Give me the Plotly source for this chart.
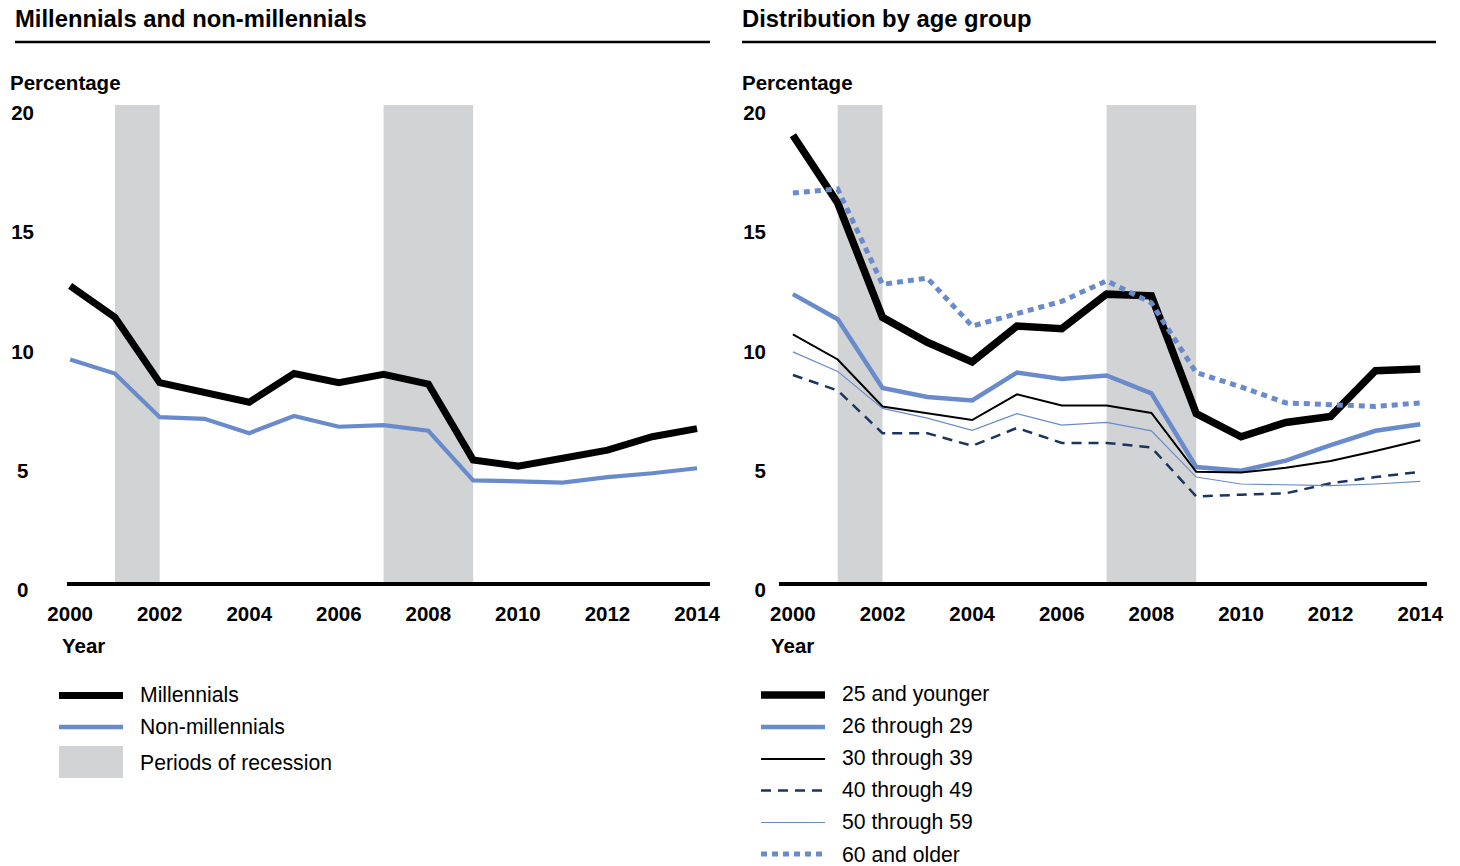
import plotly.graph_objects as go

# ---------------- data ----------------
years = list(range(2000, 2015))

millennials = [12.42, 11.10, 8.36, 7.96, 7.54, 8.74, 8.36, 8.71, 8.30, 5.12, 4.86, 5.19, 5.53, 6.09, 6.43]
non_millennials = [9.33, 8.74, 6.91, 6.84, 6.24, 6.96, 6.51, 6.58, 6.34, 4.26, 4.22, 4.17, 4.40, 4.56, 4.77]

age_25_younger = [18.73, 15.89, 11.10, 10.05, 9.23, 10.73, 10.62, 12.07, 12.00, 7.06, 6.09, 6.69, 6.94, 8.86, 8.93]
age_26_29 = [12.07, 11.02, 8.14, 7.76, 7.61, 8.78, 8.51, 8.66, 7.91, 4.82, 4.67, 5.09, 5.74, 6.34, 6.61]
age_30_39 = [10.38, 9.33, 7.36, 7.09, 6.79, 7.87, 7.40, 7.40, 7.09, 4.62, 4.59, 4.79, 5.07, 5.49, 5.94]
age_40_49 = [8.68, 8.03, 6.24, 6.24, 5.71, 6.46, 5.83, 5.83, 5.64, 3.59, 3.66, 3.72, 4.14, 4.40, 4.62]
age_50_59 = [9.65, 8.83, 7.28, 6.87, 6.36, 7.06, 6.58, 6.69, 6.34, 4.40, 4.11, 4.07, 4.04, 4.11, 4.22]
age_60_older = [16.31, 16.48, 12.48, 12.74, 10.73, 11.25, 11.77, 12.63, 11.70, 8.78, 8.18, 7.51, 7.43, 7.36, 7.51]

recessions = [(2001, 2002), (2007, 2009)]

x_ticks = [2000, 2002, 2004, 2006, 2008, 2010, 2012, 2014]
y_ticks = [0, 5, 10, 15, 20]
y_ticks_text_left = ["0\u2008", "5\u2008", "10", "15", "20"]
y_ticks_text_right = ["0", "5", "10", "15", "20"]

left_title = "Millennials and non-millennials"
right_title = "Distribution by age group"
left_names = ["Millennials", "Non-millennials", "Periods of recession"]
right_names = ["25 and younger", "26 through 29", "30 through 39",
               "40 through 49", "50 through 59", "60 and older"]

# ---------------- styles ----------------
W, H = 1460, 866
FONT = "Liberation Sans, Arial, Helvetica, sans-serif"
BLUE = "#6a8bcb"
NAVY = "#1b355f"
GRAY = "#d1d3d4"


def px(x):
    return x / W


def py(y):
    return 1 - y / H


fig = go.Figure()

left_styles = [dict(color="black", width=7), dict(color=BLUE, width=4.2)]
for name, vals, st in zip(left_names[:2], [millennials, non_millennials], left_styles):
    fig.add_trace(go.Scatter(x=years, y=vals, mode="lines", name=name, line=st,
                             xaxis="x", yaxis="y", showlegend=False))

right_series = [age_25_younger, age_26_29, age_30_39, age_40_49, age_50_59, age_60_older]
right_styles = [
    dict(color="black", width=7.5),
    dict(color=BLUE, width=4.5),
    dict(color="black", width=2),
    dict(color=NAVY, width=2.5, dash="10px,7px"),
    dict(color=BLUE, width=1.2),
    dict(color=BLUE, width=5, dash="6px,5px"),
]
for name, vals, st in zip(right_names, right_series, right_styles):
    fig.add_trace(go.Scatter(x=years, y=vals, mode="lines", name=name, line=st,
                             xaxis="x2", yaxis="y2", showlegend=False))

shapes = []
for xr, yr in [("x", "y"), ("x2", "y2")]:
    for a, b in recessions:
        shapes.append(dict(type="rect", xref=xr, yref=yr, x0=a, x1=b, y0=0, y1=20,
                           fillcolor=GRAY, line=dict(width=0), layer="below"))

# title rules
shapes.append(dict(type="line", xref="paper", yref="paper", x0=px(15), x1=px(710),
                   y0=py(42), y1=py(42), line=dict(color="black", width=2.5)))
shapes.append(dict(type="line", xref="paper", yref="paper", x0=px(742), x1=px(1436),
                   y0=py(42), y1=py(42), line=dict(color="black", width=2.5)))

# legend samples
left_rows = [695.5, 727, 762]
shapes.append(dict(type="line", xref="paper", yref="paper", x0=px(59), x1=px(123),
                   y0=py(left_rows[0]), y1=py(left_rows[0]), line=dict(color="black", width=7)))
shapes.append(dict(type="line", xref="paper", yref="paper", x0=px(59), x1=px(123),
                   y0=py(left_rows[1]), y1=py(left_rows[1]), line=dict(color=BLUE, width=4.5)))
shapes.append(dict(type="rect", xref="paper", yref="paper", x0=px(59), x1=px(123),
                   y0=py(778), y1=py(746), fillcolor=GRAY, line=dict(width=0)))

right_rows = [695, 727, 759, 790.5, 822.5, 854]
for yy, st in zip(right_rows, right_styles):
    shapes.append(dict(type="line", xref="paper", yref="paper", x0=px(761), x1=px(825),
                       y0=py(yy), y1=py(yy), line=st))

annotations = []


def txt(x, y, text, size=21.2, bold=False, xanchor="left"):
    annotations.append(dict(xref="paper", yref="paper", x=px(x), y=py(y), text=text,
                            showarrow=False, xanchor=xanchor, yanchor="middle",
                            font=dict(family=FONT, size=size, color="black",
                                      weight="bold" if bold else "normal")))


txt(13, 19, left_title, size=23.8, bold=True)
txt(740, 19, right_title, size=23.8, bold=True)
txt(8, 82, "Percentage", size=20.5, bold=True)
txt(740, 82, "Percentage", size=20.5, bold=True)
txt(83.5, 645, "Year", size=20.5, bold=True, xanchor="center")
txt(792.5, 645, "Year", size=20.5, bold=True, xanchor="center")

for yy, name in zip([694, 726, 762], left_names):
    txt(138, yy, name)
for yy, name in zip([694, 726, 758, 790, 822, 854], right_names):
    txt(840, yy, name)

tickfont = dict(family=FONT, size=20.5, color="black", weight="bold")

xaxis_common = dict(tickmode="array", tickvals=x_ticks, showgrid=False,
                    zeroline=False, showline=True, linecolor="black", linewidth=4,
                    ticks="", tickfont=tickfont, ticklabelstandoff=10, fixedrange=True,
                    automargin=False)
yaxis_common = dict(range=[0, 20], tickmode="array", tickvals=y_ticks, showgrid=False,
                    zeroline=False, showline=False, ticks="", tickfont=tickfont,
                    ticklabelshift=8, fixedrange=True, automargin=False)

fig.update_layout(
    width=W, height=H,
    margin=dict(l=0, r=0, t=0, b=0, pad=0, autoexpand=False),
    paper_bgcolor="white", plot_bgcolor="white",
    showlegend=False,
    xaxis=dict(xaxis_common, domain=[px(67), px(710)], range=[1999.93, 2014.29], anchor="y"),
    yaxis=dict(yaxis_common, domain=[py(582), py(105)], ticktext=y_ticks_text_left,
               ticklabelstandoff=32, anchor="x"),
    xaxis2=dict(xaxis_common, domain=[px(779), px(1427)], range=[1999.69, 2014.15], anchor="y2"),
    yaxis2=dict(yaxis_common, domain=[py(582), py(105)], ticktext=y_ticks_text_right,
                ticklabelstandoff=12, anchor="x2"),
    shapes=shapes,
    annotations=annotations,
    font=dict(family=FONT),
)

fig.write_html(
    "out.html",
    config={"displayModeBar": False},
    post_script="document.body.style.margin='0px';document.body.style.overflow='hidden';",
)
